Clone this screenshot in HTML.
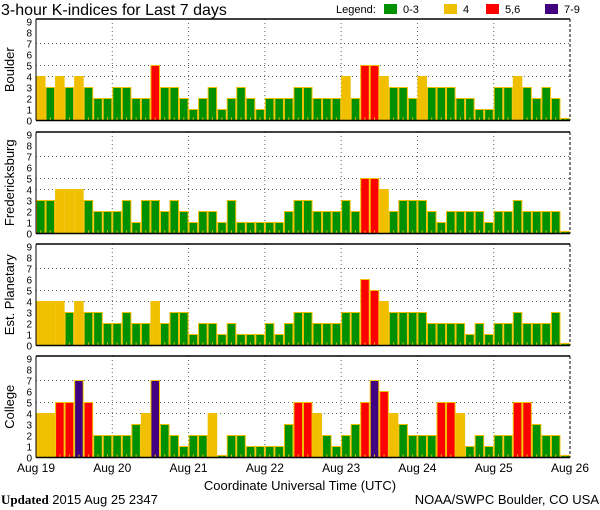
<!DOCTYPE html>
<html><head><meta charset="utf-8"><style>
body{margin:0;background:#fff;}
svg{display:block;font-family:"Liberation Sans",sans-serif;}
</style></head><body>
<svg id="chart" width="600" height="510" viewBox="0 0 600 510">
<text x="1" y="15" font-size="16">3-hour K-indices for Last 7 days</text>
<g font-size="11">
<text x="336" y="13">Legend:</text>
<rect x="384" y="4" width="13" height="10" fill="#009000"/><text x="403" y="13">0-3</text>
<rect x="444" y="4" width="13" height="10" fill="#f0c000"/><text x="463" y="13">4</text>
<rect x="486" y="4" width="13" height="10" fill="#ff0000"/><text x="505" y="13">5,6</text>
<rect x="545" y="4" width="13" height="10" fill="#400080"/><text x="564" y="13">7-9</text>
</g>
<g id="panels"></g>
<g id="xaxis" font-size="12"></g>
<text x="300" y="490" font-size="13" text-anchor="middle">Coordinate Universal Time (UTC)</text>
<text x="1" y="504" font-size="13"><tspan font-family="Liberation Serif" font-weight="bold">Updated</tspan> 2015 Aug 25 2347</text>
<text x="599" y="504" font-size="13" text-anchor="end">NOAA/SWPC Boulder, CO USA</text>
</svg>
<script>
const stations = ["Boulder","Fredericksburg","Est. Planetary","College"];
const dayLabels = ["Aug 19","Aug 20","Aug 21","Aug 22","Aug 23","Aug 24","Aug 25","Aug 26"];
const yTicks = [0,1,2,3,4,5,6,7,8,9];
const boulder = [4,3,4,3,4,3,2,2, 3,3,2,2,5,3,3,2, 1,2,3,1,2,3,2,1, 2,2,2,3,3,2,2,2, 4,2,5,5,4,3,3,2, 4,3,3,3,2,2,1,1, 3,3,4,3,2,3,2,0];
const fredericksburg = [3,3,4,4,4,3,2,2, 2,3,1,3,3,2,3,2, 1,2,2,1,3,1,1,1, 1,1,2,3,3,2,2,2, 3,2,5,5,4,2,3,3, 3,2,1,2,2,2,2,1, 2,2,3,2,2,2,2,0];
const planetary = [4,4,4,3,4,3,3,2, 2,3,2,2,4,2,3,3, 1,2,2,1,2,1,1,1, 2,1,2,3,3,2,2,2, 3,3,6,5,4,3,3,3, 3,2,2,2,2,1,2,1, 2,2,3,2,2,2,3,0];
const college = [4,4,5,5,7,5,2,2, 2,2,3,4,7,3,2,1, 2,2,4,0,2,2,1,1, 1,1,3,5,5,4,2,1, 2,3,5,7,6,4,3,2, 2,2,5,5,4,1,2,1, 2,2,5,5,3,2,2,0];
const seriesList = [boulder, fredericksburg, planetary, college];

const NS="http://www.w3.org/2000/svg";
const X0=36, X1=570, nBars=56;
const bw=(X1-X0)/nBars;
const panelTops=[19,132,244,356], PH=101.5;
const xScale=i=>X0+i*bw;
const yScale=(top,v)=>top+PH-v*(PH-2.5)/9;
function mk(tag,attrs,parent){const e=document.createElementNS(NS,tag);for(const k in attrs)e.setAttribute(k,attrs[k]);parent.appendChild(e);return e;}
function color(v){return v>=7?"#400080":v>=5?"#ff0000":v===4?"#f0c000":"#009000";}
const panels=document.getElementById("panels");
seriesList.forEach((data,p)=>{
  const top=panelTops[p], base=top+PH;
  const g=mk("g",{},panels);
  
  
  const lbl=mk("text",{x:0,y:0,"font-size":13,"text-anchor":"middle",transform:`translate(14,${top+PH/2}) rotate(-90)`},g);
  lbl.textContent=stations[p];
  
  
  yTicks.forEach(t=>{const tx=mk("text",{x:32,y:yScale(top,t)+4,"font-size":10,"text-anchor":"end"},g);tx.textContent=t;
    
    });
  [4,5,7].forEach(t=>{mk("line",{x1:X0,x2:X1,y1:yScale(top,t),y2:yScale(top,t),stroke:"#666","stroke-dasharray":"1,3"},g);});
  for(let d=1;d<7;d++){const x=xScale(d*8);mk("line",{x1:x,x2:x,y1:top,y2:base,stroke:"#666","stroke-dasharray":"1,3"},g);}
  data.forEach((v,i)=>{
    const x=xScale(i), y=v===0?base-2:yScale(top,v);
    const r=mk("rect",{x:x+0.5,y:y,width:bw-1,height:base-y,fill:color(v),stroke:"#f0c000","stroke-width":1},g);
    
    
    mk("rect",{x:x+bw/2-0.5,y:base-3,width:1,height:3,fill:"#f0c000"},g);
  });
  mk("line",{x1:X0,x2:X1,y1:top,y2:top,stroke:"#000","stroke-width":1.5},g);
  mk("line",{x1:X0,x2:X1,y1:base,y2:base,stroke:"#000","stroke-width":1.5},g);
  mk("line",{x1:X0,x2:X0,y1:top,y2:base,stroke:"#000","stroke-width":1},g);
  mk("line",{x1:X1,x2:X1,y1:top,y2:base,stroke:"#000","stroke-width":1,"stroke-dasharray":"3,2"},g);
});
const xa=document.getElementById("xaxis");
dayLabels.forEach((d,i)=>{const t=mk("text",{x:xScale(i*8),y:472,"text-anchor":"middle"},xa);t.textContent=d;
  
  });
</script>
</body></html>
